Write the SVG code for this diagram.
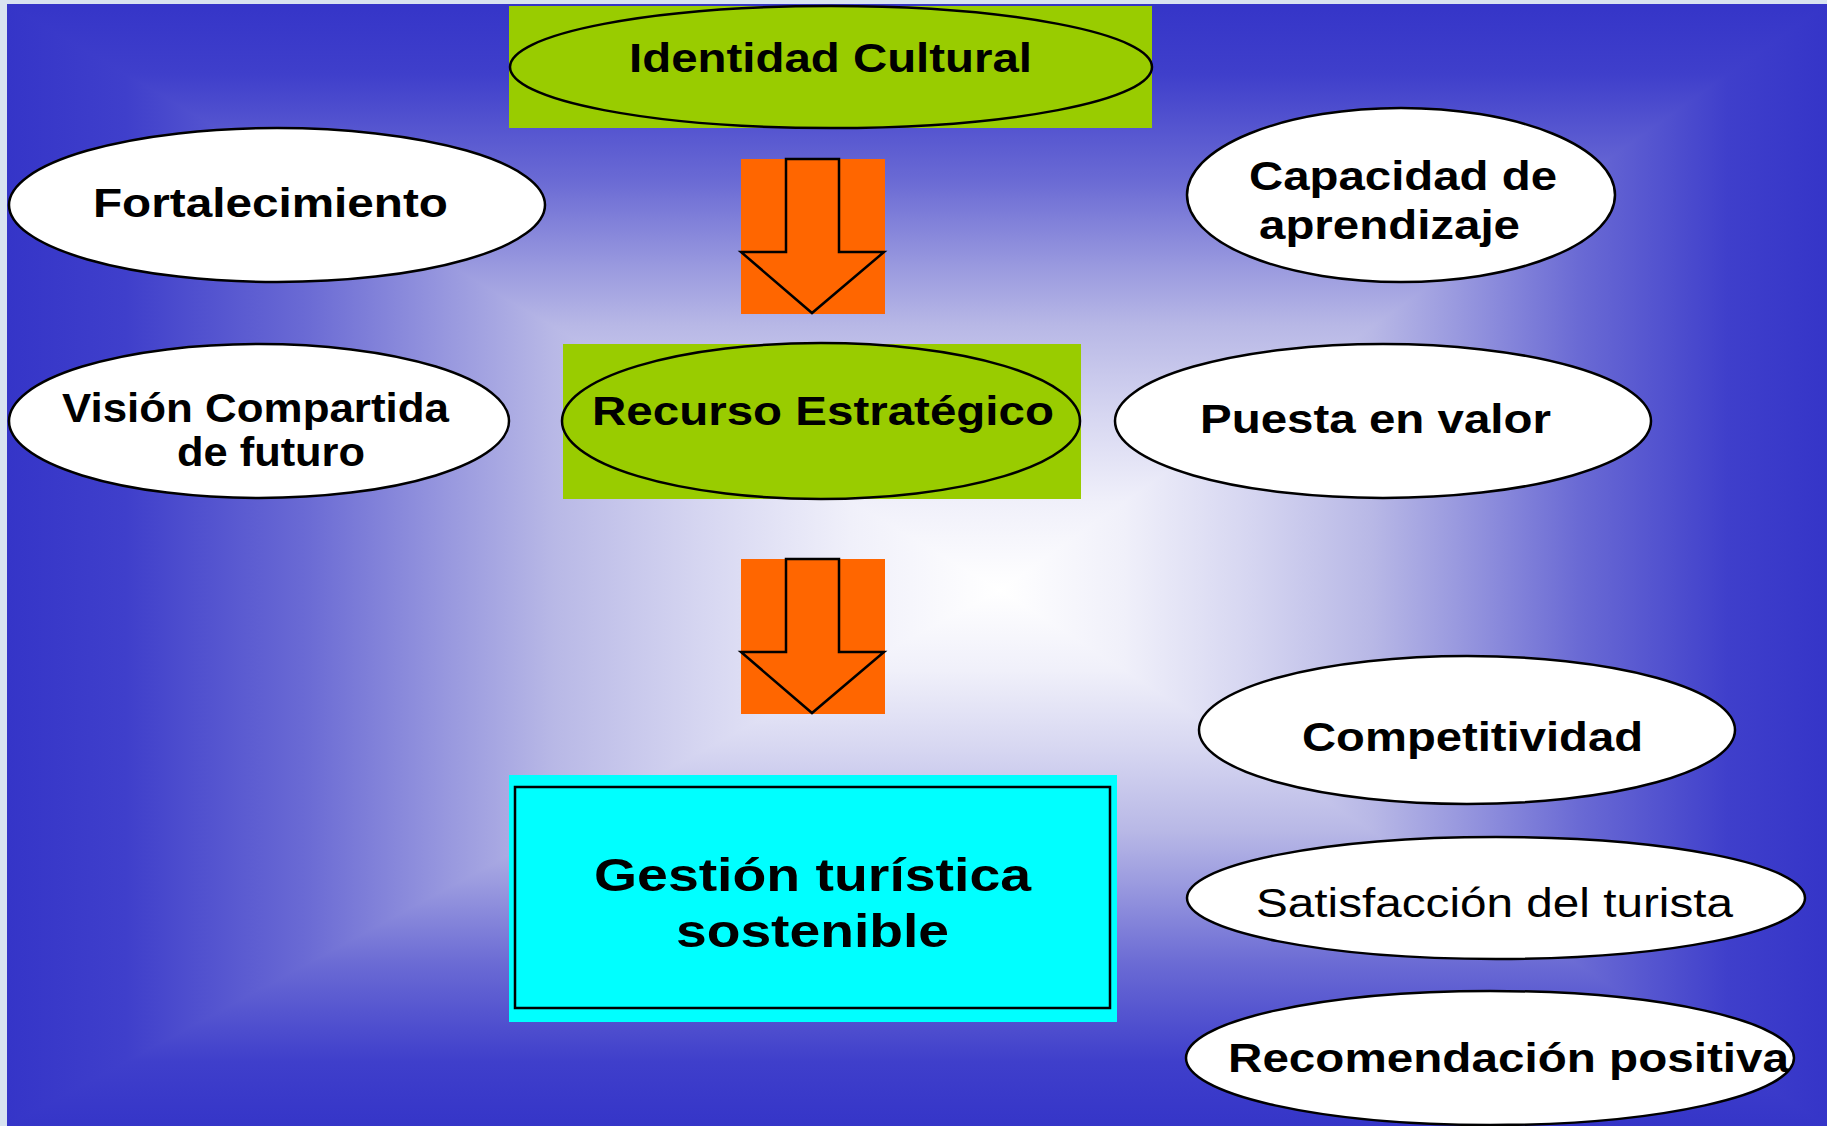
<svg xmlns="http://www.w3.org/2000/svg" width="1827" height="1126" viewBox="0 0 1827 1126">
  <defs>
    <linearGradient id="gTop" gradientUnits="userSpaceOnUse" x1="0" y1="4" x2="0" y2="590">
      <stop offset="0" stop-color="#3535c8"/>
      <stop offset="0.12" stop-color="#3f3fcb"/>
      <stop offset="0.3" stop-color="#6a6ad4"/>
      <stop offset="0.45" stop-color="#9a9adf"/>
      <stop offset="0.55" stop-color="#b8b8e6"/>
      <stop offset="0.7" stop-color="#d6d6f1"/>
      <stop offset="0.85" stop-color="#f0f0fa"/>
      <stop offset="1" stop-color="#ffffff"/>
    </linearGradient>
    <linearGradient id="gBot" href="#gTop" gradientUnits="userSpaceOnUse" x1="0" y1="1126" x2="0" y2="590"/>
    <linearGradient id="gLeft" href="#gTop" gradientUnits="userSpaceOnUse" x1="7" y1="0" x2="1000" y2="0"/>
    <linearGradient id="gRight" href="#gTop" gradientUnits="userSpaceOnUse" x1="1827" y1="0" x2="1000" y2="0"/>
  </defs>
  <style>
    .oval { fill: #ffffff; stroke: #000000; stroke-width: 2.5; }
    .goval { fill: #99cc00; stroke: #000000; stroke-width: 2.5; }
    .green { fill: #99cc00; }
    .orange { fill: #ff6600; }
    .arrow { fill: #ff6600; stroke: #000000; stroke-width: 2.5; stroke-linejoin: miter; }
    .t { font-family: "Liberation Sans", Arial, sans-serif; font-weight: bold; font-size: 41px; fill: #000000; }
    .tr { font-family: "Liberation Sans", Arial, sans-serif; font-weight: normal; font-size: 40px; fill: #000000; }
    .tg { font-family: "Liberation Sans", Arial, sans-serif; font-weight: bold; font-size: 46px; fill: #000000; }
  </style>

  <g id="background">
    <rect x="0" y="0" width="1827" height="1126" fill="#d8e3f0"/>
    <rect x="7" y="4" width="993" height="1122" fill="url(#gLeft)"/>
    <rect x="1000" y="4" width="827" height="1122" fill="url(#gRight)"/>
    <polygon points="7,4 1827,4 1000,590" fill="url(#gTop)"/>
    <polygon points="7,1126 1827,1126 1000,590" fill="url(#gBot)"/>
  </g>

  <g id="identidad-cultural">
    <rect class="green" x="509" y="6" width="643" height="122"/>
    <ellipse class="goval" cx="831" cy="67" rx="321" ry="61"/>
    <text class="t" x="629" y="72" textLength="403" lengthAdjust="spacingAndGlyphs">Identidad Cultural</text>
  </g>

  <g id="fortalecimiento">
    <ellipse class="oval" cx="277" cy="205" rx="268" ry="77"/>
    <text class="t" x="93" y="217" textLength="355" lengthAdjust="spacingAndGlyphs">Fortalecimiento</text>
  </g>

  <g id="capacidad-aprendizaje">
    <ellipse class="oval" cx="1401" cy="195" rx="214" ry="87"/>
    <text class="t" x="1249" y="190" textLength="308" lengthAdjust="spacingAndGlyphs">Capacidad de</text>
    <text class="t" x="1259" y="239" textLength="261" lengthAdjust="spacingAndGlyphs">aprendizaje</text>
  </g>

  <g id="recurso-estrategico">
    <rect class="green" x="563" y="344" width="518" height="155"/>
    <ellipse class="goval" cx="821" cy="421" rx="259" ry="78"/>
    <text class="t" x="592" y="425" textLength="462" lengthAdjust="spacingAndGlyphs">Recurso Estratégico</text>
  </g>

  <g id="vision-compartida">
    <ellipse class="oval" cx="259" cy="421" rx="250" ry="77"/>
    <text class="t" x="62" y="422" textLength="387" lengthAdjust="spacingAndGlyphs">Visión Compartida</text>
    <text class="t" x="177" y="466" textLength="188" lengthAdjust="spacingAndGlyphs">de futuro</text>
  </g>

  <g id="puesta-en-valor">
    <ellipse class="oval" cx="1383" cy="421" rx="268" ry="77"/>
    <text class="t" x="1200" y="433" textLength="351" lengthAdjust="spacingAndGlyphs">Puesta en valor</text>
  </g>

  <g id="gestion-turistica">
    <rect x="509" y="775" width="608" height="247" fill="#00ffff"/>
    <rect x="515" y="787" width="595" height="221" fill="none" stroke="#000000" stroke-width="2.5"/>
    <text class="tg" x="594" y="891" textLength="437" lengthAdjust="spacingAndGlyphs">Gestión turística</text>
    <text class="tg" x="676" y="947" textLength="273" lengthAdjust="spacingAndGlyphs">sostenible</text>
  </g>

  <g id="competitividad">
    <ellipse class="oval" cx="1467" cy="730" rx="268" ry="74"/>
    <text class="t" x="1302" y="751" textLength="341" lengthAdjust="spacingAndGlyphs">Competitividad</text>
  </g>

  <g id="satisfaccion">
    <ellipse class="oval" cx="1496" cy="898" rx="309" ry="61"/>
    <text class="tr" x="1256" y="917" textLength="477" lengthAdjust="spacingAndGlyphs">Satisfacción del turista</text>
  </g>

  <g id="recomendacion">
    <ellipse class="oval" cx="1490" cy="1058" rx="304" ry="67"/>
    <text class="t" x="1228" y="1072" textLength="561" lengthAdjust="spacingAndGlyphs">Recomendación positiva</text>
  </g>

  <g id="connectors">
    <rect class="orange" x="741" y="159" width="144" height="155"/>
    <path class="arrow" d="M786,159 H839 V252 H884 L812,313 L741,252 H786 Z"/>
    <rect class="orange" x="741" y="559" width="144" height="155"/>
    <path class="arrow" d="M786,559 H839 V652 H884 L812,713 L741,652 H786 Z"/>
  </g>
</svg>
